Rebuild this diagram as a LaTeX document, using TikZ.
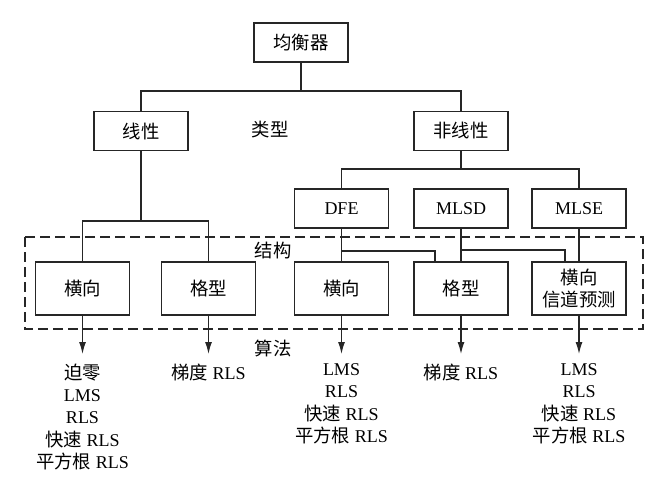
\documentclass[tikz,border=0pt]{standalone}
\usepackage{fontspec}
\setmainfont{Liberation Serif}
\newfontfamily\cjk[Scale=1.02]{Noto Sans CJK SC}
\newcommand{\zh}[1]{{\cjk #1}}
\usetikzlibrary{arrows.meta}
\def\structframe{(25,237) rectangle (643,329)}
\colorlet{box edge}{black!85}
\tikzset{box/.style={draw=box edge, line width=1.2pt, minimum width=94pt, minimum height=39pt, inner sep=0pt},
	tallbox/.style={box, minimum height=53pt, align=center},
	dashbox/.style={draw=box edge, line width=1.2pt, dash pattern=on 10pt off 5pt},
	link/.style={draw=box edge, line width=1.2pt},
	algo/.style={anchor=north, inner sep=0pt, align=center},
	label/.style={inner sep=0pt}}

\begin{document}
\begin{tikzpicture}[x=1pt,y=-1pt,font=\fontsize{18}{22.3}\selectfont]
		\useasboundingbox (0,0) rectangle (663,478);
		% levels of the bars
		\coordinate (topbar) at (0,91);
		\coordinate (linbar) at (0,221);
		\coordinate (nlbar) at (0,169);
		\coordinate (br1) at (0,251);
		\coordinate (br2) at (0,250);
		\coordinate (tipline) at (0,354);
		
		\node[box] (eq) at (301,42.5) {\zh{均衡器}};
		\node[box] (lin) at (141,131) {\zh{线性}};
		\node[box] (nonlin) at (461,131) {\zh{非线性}};
		\node[label] (kind) at (270,130) {\zh{类型}};
		
		\node[box] (dfe) at (341.5,208.5) {DFE};
		\node[box] (mlsd) at (461,208.5) {MLSD};
		\node[box] (mlse) at (579,208.5) {MLSE};
		
		\draw[dashbox] \structframe;
		\node[label] (struct) at (273,251) {\zh{结构}};
		\node[label] (alg) at (273,348) {\zh{算法}};
		
		\node[tallbox] (la) at (82.5,288.5) {\zh{横向}};
		\node[tallbox] (lb) at (208.5,288.5) {\zh{格型}};
		\node[tallbox] (ba) at (341.5,288.5) {\zh{横向}};
		\node[tallbox] (bb) at (461,288.5) {\zh{格型}};
		\node[tallbox] (bc) at (579,288.5) {\zh{横向}\\\zh{信道预测}};
		
		\path[link] (eq.south) -- (eq.south |- topbar);
		\path[link] (lin.north) |- (nonlin.north |- topbar) -- (nonlin.north);
		\path[link] (lin.south) -- (lin.south |- linbar);
		\path[link] (la.north) |- (lb.north |- linbar) -- (lb.north);
		\path[link] (nonlin.south) -- (nonlin.south |- nlbar);
		\path[link] (dfe.north) |- (mlse.north |- nlbar) -- (mlse.north);
		\path[link] (dfe.south) -- (ba.north);
		\path[link] (dfe.south |- br1) -| ([xshift=-26pt]bb.north);
		\path[link] (mlsd.south) -- (bb.north);
		\path[link] (mlsd.south |- br2) -| ([xshift=-14pt]bc.north);
		\path[link] (mlse.south) -- (bc.north);
		
		\foreach \b in {la,lb,ba,bb,bc}
			\path[link,-{Latex[length=12pt,width=7pt]}] (\b.south) -- (\b.south |- tipline);
		
		\node[algo] (ala) at (82.5,363.5) {\zh{迫零}\\LMS\\RLS\\\zh{快速} RLS\\\zh{平方根} RLS};
		\node[algo] (alb) at (208.5,363.5) {\zh{梯度} RLS};
		\node[algo] (aba) at (341.5,363.5) {LMS\\RLS\\\zh{快速} RLS\\\zh{平方根} RLS};
		\node[algo] (abb) at (461,363.5) {\zh{梯度} RLS};
		\node[algo] (abc) at (579,363.5) {LMS\\RLS\\\zh{快速} RLS\\\zh{平方根} RLS};
		\end{tikzpicture}
\end{document}
